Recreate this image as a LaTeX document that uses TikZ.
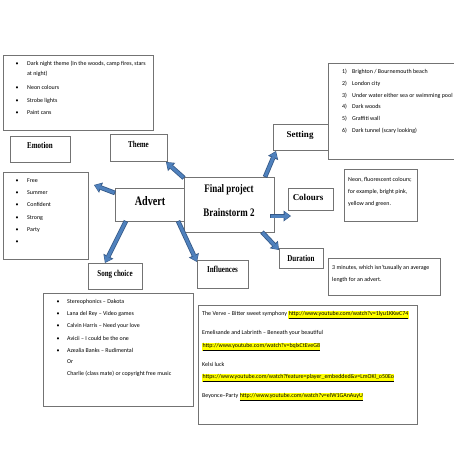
\documentclass[tikz,border=0pt]{standalone}
\usepackage{fontspec}
\setmainfont{Carlito}
\newfontfamily\titlefont{Liberation Serif}[FakeStretch=0.78]
\newfontfamily\titlewide{Liberation Serif}
\usetikzlibrary{arrows.meta}
\definecolor{boxgray}{RGB}{115,115,115}
\definecolor{arrfill}{RGB}{79,129,189}
\definecolor{arrline}{RGB}{52,88,135}
\definecolor{hly}{RGB}{255,255,0}
\newcommand{\hlurl}[1]{{\setlength{\fboxsep}{0.3pt}\colorbox{hly}{\underline{#1}}}}
\begin{document}
\begin{tikzpicture}[x=1pt,y=-1pt,
  box/.style={draw=boxgray, line width=0.6pt, fill=white, inner sep=0pt},
  lbl/.style={font=\titlefont\bfseries\fontsize{9}{10}\selectfont, inner sep=0pt, anchor=base},
  lblw/.style={font=\titlewide\bfseries\fontsize{9}{10}\selectfont, inner sep=0pt, anchor=base},
  txt/.style={font=\fontsize{5.95}{7}\selectfont, inner sep=0pt, anchor=base west},
  bul/.style={font=\fontsize{5.95}{7}\selectfont, inner sep=0pt, anchor=base},
  barrow/.style={draw=arrfill, line width=3pt, shorten >=1pt, shorten <=0.8pt,
    -{Triangle[width=8.5pt,length=5.5pt,line width=0pt]},
    preaction={draw=arrline, line width=4.6pt, shorten >=0pt, shorten <=0pt,
      -{Triangle[width=11pt,length=7.5pt,line width=0pt]}}}
]
\useasboundingbox (0,0) rectangle (453,453);
\fill[white] (0,0) rectangle (453,453);

% boxes
\node[box, minimum width=150pt, minimum height=75pt] (themelist) at (78,92.5) {};
\node[box, minimum width=60pt, minimum height=26pt] (emotion) at (40,149) {};
\node[box, minimum width=57pt, minimum height=27pt] (theme) at (138.5,147.5) {};
\node[box, minimum width=55pt, minimum height=26pt] (setting) at (300.5,137) {};
\node[box, minimum width=128pt, minimum height=96pt] (settinglist) at (392,111) {};
\node[box, minimum width=85pt, minimum height=87pt] (emotionlist) at (45.5,215.5) {};
\node[box, minimum width=70pt, minimum height=33pt] (advert) at (150,204.5) {};
\node[box, minimum width=90pt, minimum height=55pt] (final) at (229,204.5) {};
\node[box, minimum width=45pt, minimum height=22pt] (colours) at (310.5,199) {};
\node[box, minimum width=73pt, minimum height=52pt] (colourstext) at (380.5,195) {};
\node[box, minimum width=44pt, minimum height=20pt] (duration) at (301,258) {};
\node[box, minimum width=112pt, minimum height=37pt] (durationtext) at (384,276.5) {};
\node[box, minimum width=54pt, minimum height=26pt] (song) at (115,276) {};
\node[box, minimum width=51pt, minimum height=28pt] (influences) at (222.5,274) {};
\node[box, minimum width=150pt, minimum height=113pt] (songlist) at (118,349.5) {};
\node[box, minimum width=219pt, minimum height=119pt] (inflist) at (307.5,364.5) {};

% labels
\node[lbl] (lemotion) at (40,148) {Emotion};
\node[lbl] (ltheme) at (138.5,147) {Theme};
\node[lblw] (lsetting) at (300,137.5) {Setting};
\node[lblw] (lcolours) at (308,200) {Colours};
\node[lbl] (lduration) at (301,261) {Duration};
\node[lbl] (lsong) at (115,276) {Song choice};
\node[lbl] (linfl) at (222.5,272) {Influences};
\node[lbl, font=\titlefont\bfseries\fontsize{13}{15}\selectfont] (ladvert) at (150,205) {Advert};
\node[lbl, font=\titlefont\bfseries\fontsize{11.5}{13}\selectfont] (lfinal1) at (229,192.5) {Final project};
\node[lbl, font=\titlefont\bfseries\fontsize{11.5}{13}\selectfont] (lfinal2) at (229,216.5) {Brainstorm 2};

% theme list
\node[bul] (tb1) at (17,65.5) {•};
\node[txt] (tt1) at (27,65.5) {Dark night theme (In the woods, camp fires, stars};
\node[txt] (tt1b) at (27,75.5) {at night)};
\node[bul] (tb2) at (17,89.5) {•};
\node[txt] (tt2) at (27,89.5) {Neon colours};
\node[bul] (tb3) at (17,102.5) {•};
\node[txt] (tt3) at (27,102.5) {Strobe lights};
\node[bul] (tb4) at (17,114.5) {•};
\node[txt] (tt4) at (27,114.5) {Paint cans};

% setting list
\node[txt] (sn1) at (342,73.5) {1)};
\node[txt] (st1) at (352,73.5) {Brighton / Bournemouth beach};
\node[txt] (sn2) at (342,85) {2)};
\node[txt] (st2) at (352,85) {London city};
\node[txt] (sn3) at (342,97) {3)};
\node[txt] (st3) at (352,97) {Under water either sea or swimming pool};
\node[txt] (sn4) at (342,108.5) {4)};
\node[txt] (st4) at (352,108.5) {Dark woods};
\node[txt] (sn5) at (342,120.5) {5)};
\node[txt] (st5) at (352,120.5) {Graffiti wall};
\node[txt] (sn6) at (342,132.5) {6)};
\node[txt] (st6) at (352,132.5) {Dark tunnel (scary looking)};

% emotion list
\node[bul] (eb1) at (17,182.5) {•};
\node[txt] (et1) at (27,182.5) {Free};
\node[bul] (eb2) at (17,194.5) {•};
\node[txt] (et2) at (27,194.5) {Summer};
\node[bul] (eb3) at (17,206.5) {•};
\node[txt] (et3) at (27,206.5) {Confident};
\node[bul] (eb4) at (17,219.5) {•};
\node[txt] (et4) at (27,219.5) {Strong};
\node[bul] (eb5) at (17,231.5) {•};
\node[txt] (et5) at (27,231.5) {Party};
\node[bul] (eb6) at (17,243.5) {•};

% colours text
\node[txt] (ct1) at (348,181.5) {Neon, fluorescent colours;};
\node[txt] (ct2) at (348,193.5) {for example, bright pink,};
\node[txt] (ct3) at (348,205.5) {yellow and green.};

% duration text
\node[txt] (dt1) at (332,269.5) {3 minutes, which isn'tusually an average};
\node[txt] (dt2) at (332,281.5) {length for an advert.};

% song list
\node[bul] (sb1) at (58,303.5) {•};
\node[txt] (so1) at (67,303.5) {Stereophonics – Dakota};
\node[bul] (sb2) at (58,315.5) {•};
\node[txt] (so2) at (67,315.5) {Lana del Rey – Video games};
\node[bul] (sb3) at (58,327.5) {•};
\node[txt] (so3) at (67,327.5) {Calvin Harris – Need your love};
\node[bul] (sb4) at (58,340.5) {•};
\node[txt] (so4) at (67,340.5) {Avicii – I could be the one};
\node[bul] (sb5) at (58,352.5) {•};
\node[txt] (so5) at (67,352.5) {Azealia Banks – Rudimental};
\node[txt] (so6) at (67,363.5) {Or};
\node[txt] (so7) at (67,375.5) {Charlie (class mate) or copyright free music};

% influences list
\node[txt] (in1) at (202,315.5) {The Verve – Bitter sweet symphony \hlurl{http://www.youtube.com/watch?v=1lyu1KKwC74}};
\node[txt] (in2) at (202,334.5) {Emelisande and Labrinth – Beneath your beautiful};
\node[txt] (in3) at (202,347.5) {\hlurl{http://www.youtube.com/watch?v=bqlxCtEveG8}};
\node[txt] (in4) at (202,366.5) {Kelsi luck};
\node[txt] (in5) at (202,378.5) {\hlurl{https://www.youtube.com/watch?feature=player\_embedded\&v=LmOKl\_o50Eo}};
\node[txt] (in6) at (202,397.5) {Beyonce–Party \hlurl{http://www.youtube.com/watch?v=elW1GAnAuyU}};

% arrow end points
\coordinate (a1s) at (184,178);
\coordinate (a1e) at (166,162);
\coordinate (a2s) at (265,177);
\coordinate (a2e) at (276,151);
\coordinate (a3s) at (115,193);
\coordinate (a3e) at (94,185);
\coordinate (a4s) at (126,221);
\coordinate (a4e) at (105,263);
\coordinate (a5s) at (178,221);
\coordinate (a5e) at (197,262);
\coordinate (a6s) at (270,216);
\coordinate (a6e) at (291,216);
\coordinate (a7s) at (262,232);
\coordinate (a7e) at (279,250);

\draw[barrow] (a1s) -- (a1e);
\draw[barrow] (a2s) -- (a2e);
\draw[barrow] (a3s) -- (a3e);
\draw[barrow] (a4s) -- (a4e);
\draw[barrow] (a5s) -- (a5e);
\draw[barrow] (a6s) -- (a6e);
\draw[barrow] (a7s) -- (a7e);
\end{tikzpicture}
\end{document}
